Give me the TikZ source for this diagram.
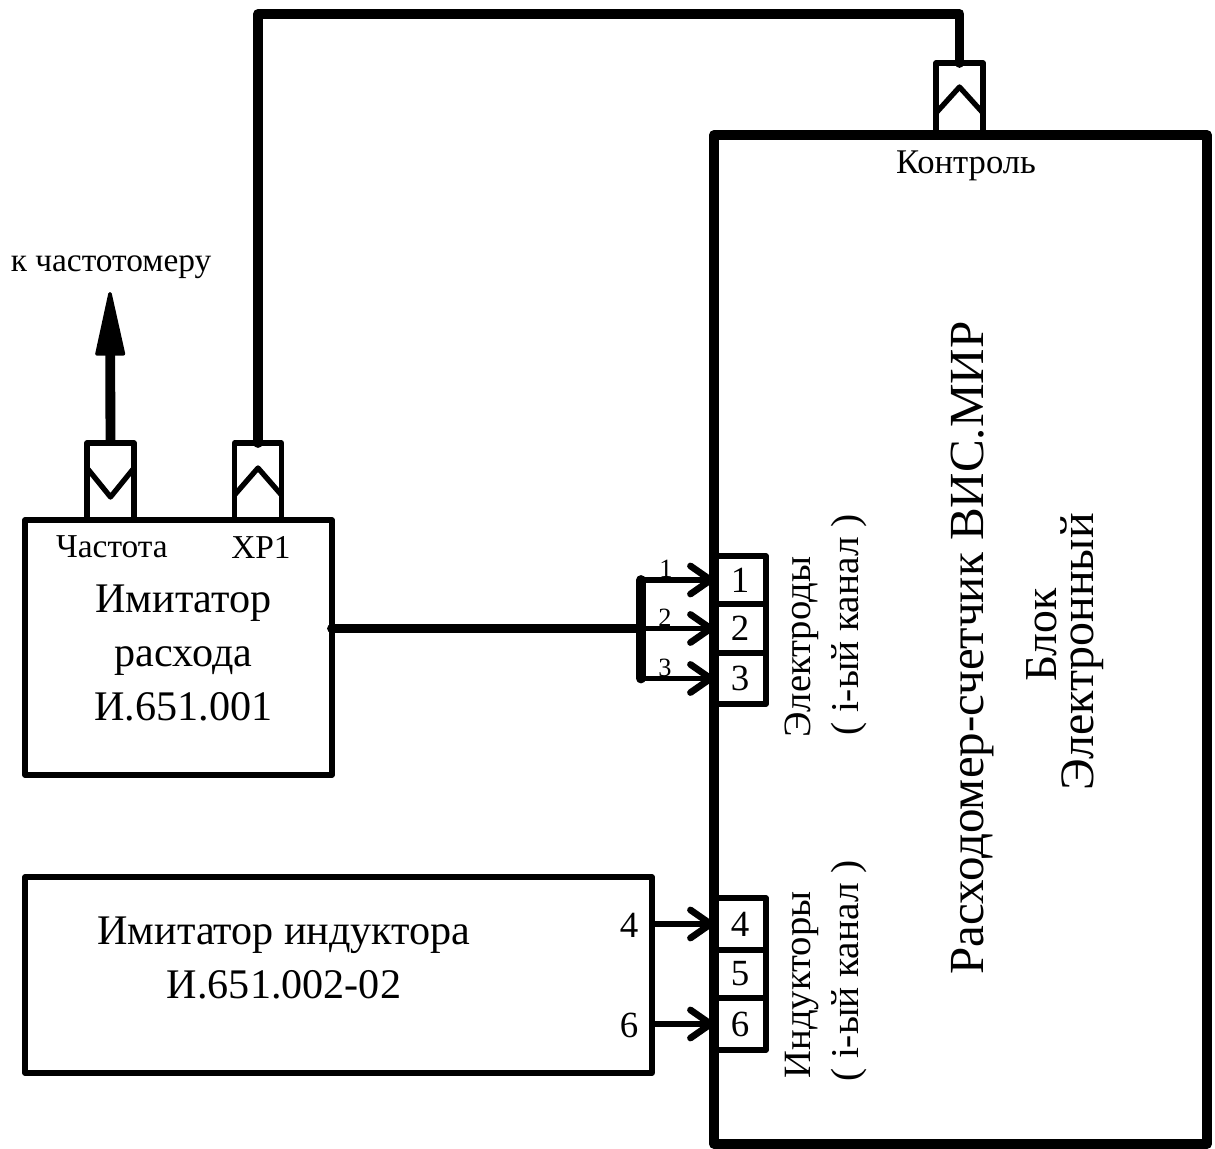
\documentclass[tikz,border=0pt]{standalone}
\usepackage{fontspec}
\setmainfont{Liberation Serif}
\usetikzlibrary{arrows.meta}

\tikzset{
  mainbox/.style={draw, line width=5.7pt, line join=round, inner sep=0pt, outer sep=0pt},
  simbox/.style={draw, line width=3pt, line join=round, inner sep=0pt, outer sep=0pt},
  socket/.style={draw, line width=3pt, line join=round, inner sep=0pt, outer sep=0pt, minimum width=0.94cm},
  cell/.style={draw, line width=3pt, line join=round, inner sep=0pt, outer sep=0pt, minimum width=1.04cm, font=\fontsize{21}{24}\selectfont},
  label/.style={inner sep=0pt, font=\fontsize{19}{22}\selectfont},
  biglabel/.style={inner sep=0pt, font=\fontsize{24}{31}\selectfont, align=center},
  sidelabel/.style={inner sep=0pt, rotate=90, font=\fontsize{22}{24}\selectfont},
  wire/.style={line width=5.6pt, line cap=round, line join=round},
  tap/.style={line width=3pt, -{Straight Barb[length=11.5pt, width=16pt, line width=3.8pt, round]}},
  chevron/.style={line width=3pt, line join=round}
}

\begin{document}
\begin{tikzpicture}[x=0.02cm, y=-0.02cm]
  \useasboundingbox (0,0) rectangle (1215,1149);

  % Nodes
  \node[mainbox, minimum width=9.86cm, minimum height=20.18cm] (blok) at (960.5,639.5) {};
  \node[simbox, minimum width=6.14cm, minimum height=5.1cm] (imit) at (178.5,647.5) {};
  \node[simbox, minimum width=12.54cm, minimum height=3.92cm] (ind) at (338.5,975) {};

  \node[socket, minimum height=1.54cm] (sf) at (110.5,481.5) {};
  \node[socket, minimum height=1.54cm] (sx) at (258,481.5) {};
  \node[socket, minimum height=1.44cm] (sk) at (959.5,99) {};

  \node[cell, minimum height=0.96cm] (e1) at (740,580) {1};
  \node[cell, minimum height=0.98cm] (e2) at (740,628.5) {2};
  \node[cell, minimum height=1.02cm] (e3) at (740,678.5) {3};
  \node[cell, minimum height=1.04cm] (i4) at (740,924) {4};
  \node[cell, minimum height=0.96cm] (i5) at (740,974) {5};
  \node[cell, minimum height=1.04cm] (i6) at (740,1024) {6};

  \coordinate (ktop) at (110,292);
  \coordinate (k1) at (258,14);
  \coordinate (k2) at (959.5,14);
  \coordinate (b1) at (641,580);
  \coordinate (b2) at (641,628.5);
  \coordinate (b3) at (641,678.5);

  % Texts
  \node[label] (tk) at (111,267) {к частотомеру};
  \node[label] (tf) at (112,547) {Частота};
  \node[label] (tx) at (261,547) {ХР1};
  \node[label, font=\fontsize{19.7}{22}\selectfont] (tc) at (966,166) {Контроль};
  \node[biglabel] (ti) at (183.5,653) {Имитатор\\расхода\\И.651.001};
  \node[biglabel] (td) at (284,958) {Имитатор индуктора\\И.651.002-02};
  \node[label, font=\fontsize{15}{16}\selectfont] (n1) at (666,569) {1};
  \node[label, font=\fontsize{15}{16}\selectfont] (n2) at (665,618) {2};
  \node[label, font=\fontsize{15}{16}\selectfont] (n3) at (665,668) {3};
  \node[cell, draw=none, minimum width=0pt] (n4) at (629,925) {4};
  \node[cell, draw=none, minimum width=0pt] (n6) at (629,1025) {6};
  \node[sidelabel] (te) at (802,647) {Электроды};
  \node[sidelabel, font=\fontsize{22.4}{24}\selectfont] (tc1) at (849,625) {( і-ый канал )};
  \node[sidelabel] (tn) at (802,985) {Индукторы};
  \node[sidelabel, font=\fontsize{22.4}{24}\selectfont] (tc2) at (849,971) {( і-ый канал )};
  \node[sidelabel, font=\fontsize{27.9}{30}\selectfont] (tr) at (972,648) {Расходомер-счетчик ВИС.МИР};
  \node[sidelabel, font=\fontsize{26}{30}\selectfont] (tb) at (1042,635) {Блок};
  \node[sidelabel, font=\fontsize{27.3}{30}\selectfont] (tl) at (1082,652) {Электронный};

  % Edges
  \draw[wire] (sx.north) -- (k1) -- (k2) -- (sk.north);
  \draw[line width=5.6pt, -{Triangle[length=40pt, width=17pt, line width=2pt, round]}] (sf.north) -- (ktop);
  \draw[wire] (imit.east |- b2) -- (b2);
  \draw[wire] (b1) -- (b3);
  \draw[tap] (b1) -- (e1.west);
  \draw[tap] (b2) -- (e2.west);
  \draw[tap] (b3) -- (e3.west);
  \draw[tap] (ind.east |- i4) -- (i4.west);
  \draw[tap] (ind.east |- i6) -- (i6.west);

  % Socket marks
  \draw[chevron] (87,468) -- (110.5,497) -- (134,468);
  \draw[chevron] (234.5,495) -- (258,468) -- (281.5,495);
  \draw[chevron] (936,113) -- (959.5,87) -- (983,113);
\end{tikzpicture}
\end{document}
